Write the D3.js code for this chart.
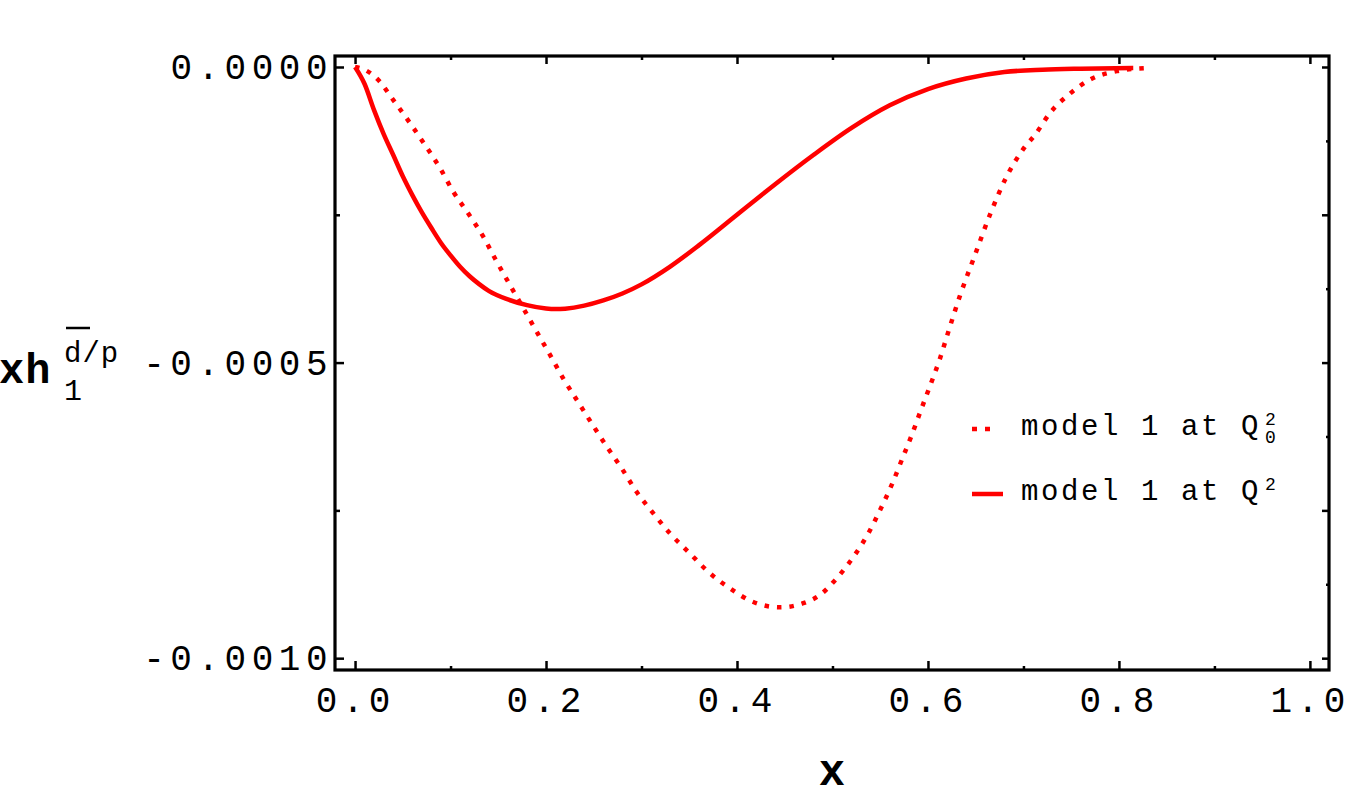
<!DOCTYPE html>
<html>
<head>
<meta charset="utf-8">
<script src="https://cdn.jsdelivr.net/npm/d3@7"></script>
<style>
  body { margin: 0; background: #fff; }
  svg { display: block; }
  .tick text { font-family: "Liberation Mono", monospace; }
</style>
</head>
<body>
<svg id="chart" width="1350" height="801"></svg>
<script>
// solid curve: model 1 at Q^2
var solidX = [0, 0.01, 0.02, 0.03, 0.04, 0.05, 0.06, 0.07, 0.08, 0.09, 0.10, 0.11, 0.12, 0.13,
  0.14, 0.16, 0.18, 0.20, 0.21, 0.22, 0.24, 0.26, 0.28, 0.30, 0.33, 0.36, 0.40, 0.44, 0.48,
  0.52, 0.56, 0.60, 0.64, 0.68, 0.72, 0.76, 0.815];
var solidY = [0, -0.288e-4, -0.733e-4, -1.135e-4, -1.489e-4, -1.848e-4, -2.167e-4, -2.460e-4,
  -2.724e-4, -2.976e-4, -3.186e-4, -3.379e-4, -3.540e-4, -3.673e-4, -3.787e-4, -3.932e-4,
  -4.029e-4, -4.086e-4, -4.095e-4, -4.088e-4, -4.037e-4, -3.949e-4, -3.832e-4, -3.677e-4,
  -3.376e-4, -3.017e-4, -2.499e-4, -1.983e-4, -1.489e-4, -1.030e-4, -0.648e-4, -0.374e-4,
  -0.195e-4, -0.085e-4, -0.046e-4, -0.029e-4, -0.017e-4];

// dotted curve: model 1 at Q0^2
var dotX = [0, 0.0105, 0.0244, 0.0401, 0.0576, 0.0733, 0.089, 0.1029, 0.1186, 0.1343, 0.1466,
  0.1623, 0.1762, 0.1903, 0.2042, 0.2181, 0.2321, 0.2479, 0.2636, 0.2793, 0.295, 0.3124, 0.3298,
  0.3508, 0.37, 0.3927, 0.4171, 0.445, 0.4694, 0.4869, 0.5044, 0.5218, 0.5375, 0.5497, 0.562,
  0.5725, 0.5829, 0.5934, 0.6039, 0.6126, 0.6213, 0.6335, 0.6492, 0.6649, 0.6806, 0.7016,
  0.712, 0.7277, 0.7487, 0.7714, 0.7976, 0.827];
var dotY = [0, -0.05e-4, -0.22e-4, -0.56e-4, -0.95e-4, -1.32e-4, -1.71e-4, -2.11e-4, -2.48e-4,
  -2.87e-4, -3.24e-4, -3.69e-4, -4.08e-4, -4.48e-4, -4.87e-4, -5.27e-4, -5.63e-4, -6.03e-4,
  -6.42e-4, -6.79e-4, -7.19e-4, -7.55e-4, -7.89e-4, -8.23e-4, -8.54e-4, -8.82e-4, -9.05e-4,
  -9.14e-4, -9.07e-4, -8.93e-4, -8.65e-4, -8.29e-4, -7.89e-4, -7.50e-4, -7.07e-4, -6.65e-4,
  -6.23e-4, -5.77e-4, -5.32e-4, -4.93e-4, -4.48e-4, -3.87e-4, -3.18e-4, -2.50e-4, -1.91e-4,
  -1.35e-4, -1.15e-4, -0.78e-4, -0.45e-4, -0.20e-4, -0.07e-4, -0.02e-4];

var xMajor = [0, 0.2, 0.4, 0.6, 0.8, 1.0];
var xMinor = [0.1, 0.3, 0.5, 0.7, 0.9];
var yLabelTicks = [0, -0.0005, -0.001];
var yLeftMinor = [-0.00025, -0.00075];
var yRightMajor = [0, -0.00025, -0.0005, -0.00075, -0.001];
var yRightMinor = [-0.000125, -0.000375, -0.000625, -0.000875];

var legendNames = ["model 1 at Q", "model 1 at Q"];

var svg = d3.select("#chart");
var L = 335, R = 1329, T = 56, B = 670;

var x = d3.scaleLinear().domain([-0.021, 1.02]).range([L, R]);
var y = d3.scaleLinear().domain([-0.00102, 0.0000186]).range([B, T]);

var mono = "'Liberation Mono', monospace";

function styleAxis(g) {
  g.select(".domain").remove();
  g.selectAll(".tick line").attr("stroke", "#000").attr("stroke-width", 2.5);
}

// bottom
svg.append("g").attr("transform", "translate(0," + B + ")")
  .call(d3.axisBottom(x).tickValues(xMajor).tickSize(-9).tickPadding(16)
    .tickFormat(d3.format(".1f")))
  .call(styleAxis)
  .selectAll("text").style("font-size", "36px").style("letter-spacing", "5px").attr("fill", "#000");
svg.append("g").attr("transform", "translate(0," + B + ")")
  .call(d3.axisBottom(x).tickValues(xMinor).tickSize(-4).tickFormat(""))
  .call(styleAxis);

// top
svg.append("g").attr("transform", "translate(0," + T + ")")
  .call(d3.axisTop(x).tickValues(xMajor).tickSize(-8).tickFormat(""))
  .call(styleAxis);
svg.append("g").attr("transform", "translate(0," + T + ")")
  .call(d3.axisTop(x).tickValues(xMinor).tickSize(-4).tickFormat(""))
  .call(styleAxis);

// left
svg.append("g").attr("transform", "translate(" + L + ",0)")
  .call(d3.axisLeft(y).tickValues(yLabelTicks).tickSize(-9).tickPadding(2)
    .tickFormat(function(d) { return (d < 0 ? "-" : "") + Math.abs(d).toFixed(4); }))
  .call(styleAxis)
  .selectAll("text").style("font-size", "36px").style("letter-spacing", "5.5px").attr("fill", "#000");
svg.append("g").attr("transform", "translate(" + L + ",0)")
  .call(d3.axisLeft(y).tickValues(yLeftMinor).tickSize(-5).tickFormat(""))
  .call(styleAxis);

// right
svg.append("g").attr("transform", "translate(" + R + ",0)")
  .call(d3.axisRight(y).tickValues(yRightMajor).tickSize(-7).tickFormat(""))
  .call(styleAxis);
svg.append("g").attr("transform", "translate(" + R + ",0)")
  .call(d3.axisRight(y).tickValues(yRightMinor).tickSize(-3).tickFormat(""))
  .call(styleAxis);

// frame
svg.append("rect")
  .attr("x", L).attr("y", T).attr("width", R - L).attr("height", B - T)
  .attr("fill", "none").attr("stroke", "#000").attr("stroke-width", 3.2);

// curves
var line = d3.line()
  .x(function(d) { return x(d[0]); })
  .y(function(d) { return y(d[1]); })
  .curve(d3.curveMonotoneX);

var dotData = d3.zip(dotX, dotY);
var solidData = d3.zip(solidX, solidY);

svg.append("path").datum(dotData)
  .attr("d", line)
  .attr("fill", "none").attr("stroke", "#ff0000").attr("stroke-width", 4.5)
  .attr("stroke-dasharray", "4.5,8");

svg.append("path").datum(solidData)
  .attr("d", line)
  .attr("fill", "none").attr("stroke", "#ff0000").attr("stroke-width", 4.5);

// legend
var leg = svg.append("g");
var legRows = [
  { y: 435, dash: "5,8", sup: "2", sub: "0" },
  { y: 500, dash: null, sup: "2", sub: null }
];
legRows.forEach(function(r, i) {
  var ly = r.y - 6;
  var ln = leg.append("line")
    .attr("x1", 972).attr("x2", i === 0 ? 990 : 1003)
    .attr("y1", ly).attr("y2", ly)
    .attr("stroke", "#ff0000").attr("stroke-width", 4.5);
  if (r.dash) ln.attr("stroke-dasharray", r.dash);
  var t = leg.append("text")
    .attr("x", 1021).attr("y", r.y)
    .style("font-family", mono).style("font-size", "29px").style("letter-spacing", "2.6px")
    .attr("fill", "#000")
    .text(legendNames[i]);
  var w = t.node().getBBox().width;
  t.append("tspan").attr("x", 1021 + w + 4).attr("y", r.y - 10)
    .style("font-size", "18px").style("letter-spacing", "0px").text(r.sup);
  if (r.sub) {
    t.append("tspan").attr("x", 1021 + w + 4).attr("y", r.y + 8)
      .style("font-size", "18px").style("letter-spacing", "0px").text(r.sub);
  }
});

// axis titles
svg.append("text")
  .attr("x", 832).attr("y", 785).attr("text-anchor", "middle")
  .style("font-family", mono).style("font-size", "44px").style("font-weight", "bold")
  .attr("fill", "#000").text("x");

var yl = svg.append("text")
  .style("font-family", mono).attr("fill", "#000");
yl.append("tspan").attr("x", -1).attr("y", 383)
  .style("font-size", "42px").style("font-weight", "bold").style("letter-spacing", "1px")
  .text("xh");
yl.append("tspan").attr("x", 64).attr("y", 400)
  .style("font-size", "30px").text("1");
yl.append("tspan").attr("x", 64).attr("y", 362)
  .style("font-size", "29px").style("letter-spacing", "1px").text("d/p");
svg.append("line")
  .attr("x1", 66).attr("x2", 90)
  .attr("y1", 328).attr("y2", 328)
  .attr("stroke", "#000").attr("stroke-width", 2.5);
</script>
</body>
</html>
